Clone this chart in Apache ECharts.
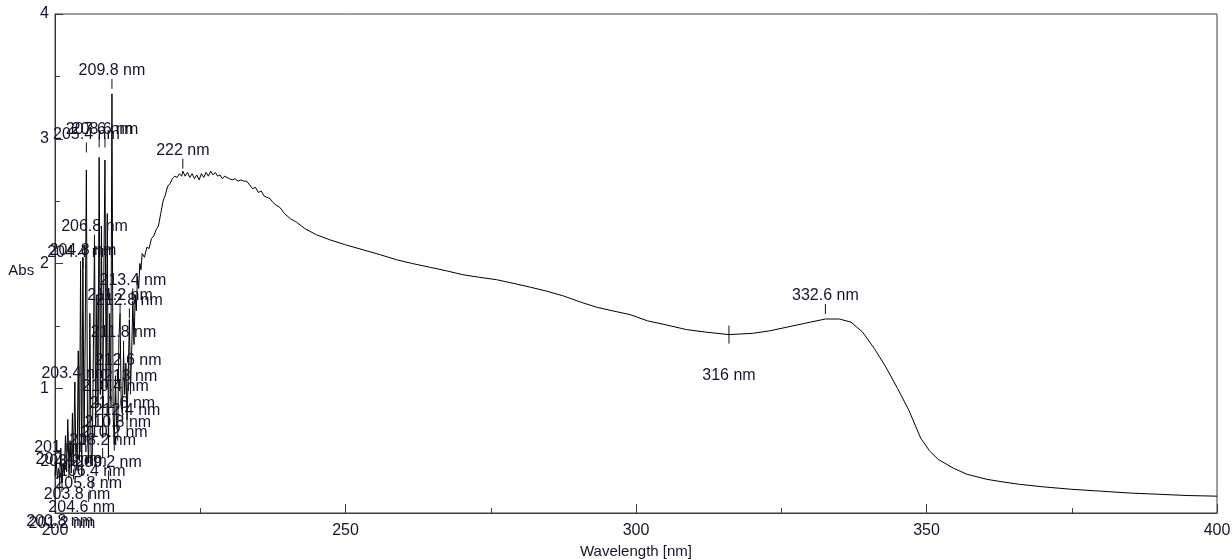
<!DOCTYPE html>
<html>
<head>
<meta charset="utf-8">
<script src="https://cdn.jsdelivr.net/npm/echarts@6/dist/echarts.min.js"></script>
<style>
html,body{margin:0;padding:0;background:#fff;}
#chart{width:1232px;height:559px;}
</style>
</head>
<body>
<div id="chart"></div>
<script>
// ---- data ----
const xTicks = [200, 250, 300, 350, 400];
const yTicks = [0, 1, 2, 3, 4];

// noisy, saturated region (wavelength nm, absorbance)
const spikeRegion = [
  [200.0,0.30],[200.2,0.42],[200.4,0.28],[200.6,0.36],[200.8,0.26],[201.0,0.52],[201.2,0.24],
  [201.4,0.40],[201.6,0.30],[201.8,0.62],[202.0,0.33],[202.2,0.75],[202.4,0.36],[202.6,0.58],
  [202.8,0.32],[203.0,0.80],[203.2,0.40],[203.4,1.05],[203.6,0.45],[203.8,0.34],[204.0,1.30],
  [204.2,0.42],[204.4,1.95],[204.6,0.30],[204.8,2.05],[205.0,0.55],[205.2,1.45],[205.4,2.75],
  [205.6,0.60],[205.8,0.40],[206.0,1.60],[206.2,0.50],[206.4,0.38],[206.6,1.30],[206.8,2.20],
  [207.0,0.70],[207.2,1.75],[207.4,0.85],[207.6,2.85],[207.8,0.95],[208.0,2.30],[208.2,0.60],
  [208.4,1.90],[208.6,2.83],[208.8,1.00],[209.0,2.40],[209.2,0.45],[209.4,1.60],[209.6,0.90],
  [209.8,3.36],[210.0,0.80],[210.2,0.55],[210.4,1.10],[210.6,0.70],[210.8,0.65],[211.0,1.40],
  [211.2,1.60],[211.4,0.85],[211.6,0.80],[211.8,1.30],[212.0,0.95],[212.2,1.20],[212.4,0.75],
  [212.6,1.10],[212.8,1.55],[213.0,1.00],[213.2,1.30],[213.4,1.70],[213.6,1.35],[213.8,1.75],
  [214.0,1.62],[214.2,1.90],[214.4,1.80],[214.6,2.00],[214.8,1.95],[215.0,2.08]
];

// main absorption band
const bandRegion = [
  [215.4,2.05],[215.8,2.13],[216.2,2.12],[216.6,2.20],[217.0,2.22],[217.4,2.27],[217.8,2.30],
  [218.2,2.40],[218.6,2.50],[219.0,2.55],[219.4,2.62],[219.8,2.64],[220.2,2.68],[220.6,2.70],
  [221.0,2.69],[221.4,2.72],[221.8,2.70],[222.0,2.74],[222.4,2.70],[222.8,2.73],[223.2,2.69],
  [223.6,2.72],[224.0,2.68],[224.4,2.71],[224.8,2.67],[225.2,2.72],[225.6,2.69],[226.0,2.73],
  [226.4,2.70],[226.8,2.74],[227.2,2.71],[227.6,2.73],[228.0,2.70],[228.4,2.71],[228.8,2.68],
  [229.2,2.70],[229.6,2.69],[230.0,2.68],[230.5,2.67],[231.0,2.68],[231.5,2.66],[232.0,2.67],
  [232.5,2.66],[233.0,2.66],[233.5,2.63],[234.0,2.60],[234.5,2.61],[235.0,2.57],[235.5,2.58],
  [236.0,2.54],[236.5,2.53],[237.0,2.52],[237.5,2.49],[238.0,2.47],[238.7,2.45],[239.5,2.40],
  [240.5,2.36],[241.6,2.33],[243.0,2.28],[245.0,2.23],[247.3,2.19],[250.0,2.15],[253.0,2.11],
  [256.0,2.07],[258.8,2.03],[261.5,2.00],[264.5,1.97],[267.5,1.94],[270.2,1.91],[273.0,1.89],
  [276.0,1.87],[279.0,1.84],[281.8,1.81],[284.5,1.78],[287.5,1.74],[290.5,1.69],[293.2,1.65],
  [296.0,1.62],[299.0,1.59],[302.0,1.54],[305.0,1.51],[308.7,1.47],[312.0,1.45],[316.0,1.43],
  [320.0,1.44],[323.0,1.46],[326.0,1.49],[329.0,1.52],[332.6,1.555],[335.0,1.555],[337.0,1.53],
  [339.0,1.45],[341.0,1.32],[343.0,1.17],[345.0,1.00],[347.0,0.82],[349.0,0.60],[350.5,0.50],
  [352.0,0.43],[354.6,0.36],[357.0,0.31],[360.4,0.27],[363.0,0.25],[366.0,0.23],[370.0,0.21],
  [375.0,0.19],[380.0,0.175],[385.0,0.16],[390.0,0.15],[395.0,0.14],[400.0,0.135]
];

// picked peaks: [wavelength, absorbance, label]
const peakLabels = [
  [209.8,3.36,'209.8 nm'],[205.4,2.85,'205.4 nm'],[207.6,2.89,'207.6 nm'],[208.6,2.89,'208.6 nm'],
  [206.8,2.11,'206.8 nm'],[204.8,1.92,'204.8 nm'],[204.4,1.90,'204.4 nm'],[213.4,1.68,'213.4 nm'],
  [211.2,1.56,'211.2 nm'],[212.8,1.52,'212.8 nm'],[211.8,1.26,'211.8 nm'],[212.6,1.04,'212.6 nm'],
  [203.4,0.93,'203.4 nm'],[213.0,0.91,'213 nm'],[210.4,0.83,'210.4 nm'],[211.6,0.69,'211.6 nm'],
  [212.4,0.64,'212.4 nm'],[210.8,0.54,'210.8 nm'],[210.2,0.46,'210.2 nm'],[208.2,0.40,'208.2 nm'],
  [201.0,0.34,'201 nm'],[202.4,0.24,'202.4 nm'],[203.2,0.23,'203.2 nm'],[209.2,0.22,'209.2 nm'],
  [206.4,0.15,'206.4 nm'],[205.8,0.05,'205.8 nm'],
  [222.0,2.72,'222 nm'],[332.6,1.555,'332.6 nm']
];
// picked valleys: [wavelength, absorbance, label]
const valleyLabels = [
  [203.8,0.48,'203.8 nm'],[204.6,0.37,'204.6 nm'],[200.8,0.26,'200.8 nm'],[201.2,0.24,'201.2 nm'],
  [316.0,1.43,'316 nm']
];

// ---- chart ----
const FONT = '"Liberation Sans", Arial, sans-serif';
const TXT = '#15152a';
const chart = echarts.init(document.getElementById('chart'), null, {renderer: 'canvas'});

function labelRenderer(list, isPeak) {
  return function (params, api) {
    const p = api.coord([api.value(0), api.value(1)]);
    const t = list[params.dataIndex][2];
    const y1 = isPeak ? p[1] - 15 : p[1] - 9;
    const y2 = isPeak ? p[1] - 5 : p[1] + 9;
    const ty = isPeak ? p[1] - 23 : p[1] + 41;
    return {
      type: 'group',
      children: [
        {type: 'line', shape: {x1: p[0], y1: y1, x2: p[0], y2: y2},
         style: {stroke: '#111', lineWidth: 1}},
        {type: 'text', style: {text: t, x: p[0], y: ty, align: 'center', verticalAlign: 'middle',
          font: '16px ' + FONT, fill: TXT}}
      ]
    };
  };
}

chart.setOption({
  animation: false,
  backgroundColor: '#fff',
  grid: {left: 55, right: 15, top: 14, bottom: 46, show: true, borderColor: '#3a3a3a', borderWidth: 1,
         backgroundColor: 'transparent', containLabel: false, outerBoundsMode: 'none'},
  xAxis: {
    type: 'value', min: xTicks[0], max: xTicks[xTicks.length - 1], interval: 50,
    name: 'Wavelength [nm]', nameLocation: 'middle', nameGap: 29,
    nameTextStyle: {fontFamily: FONT, fontSize: 15, color: TXT},
    axisLine: {show: true, lineStyle: {color: '#3a3a3a', width: 1}},
    axisTick: {show: true, inside: true, length: 9, lineStyle: {color: '#3a3a3a'}},
    minorTick: {show: true, splitNumber: 2, length: 5, lineStyle: {color: '#3a3a3a'}},
    axisLabel: {margin: 10, fontFamily: FONT, fontSize: 16, color: TXT},
    splitLine: {show: false}
  },
  yAxis: {
    type: 'value', min: yTicks[0], max: yTicks[yTicks.length - 1], interval: 1,
    name: 'Abs', nameLocation: 'middle', nameGap: 17, nameRotate: 0,
    nameTextStyle: {fontFamily: FONT, fontSize: 15, color: TXT, verticalAlign: 'top'},
    axisLine: {show: true, lineStyle: {color: '#3a3a3a', width: 1}},
    axisTick: {show: true, inside: true, length: 8, lineStyle: {color: '#3a3a3a'}},
    minorTick: {show: true, splitNumber: 2, length: 5, lineStyle: {color: '#3a3a3a'}},
    axisLabel: {margin: 6, fontFamily: FONT, fontSize: 16, color: TXT, showMinLabel: false},
    splitLine: {show: false}
  },
  series: [
    {type: 'line', data: spikeRegion.concat(bandRegion), showSymbol: false, symbol: 'none',
     lineStyle: {color: '#000', width: 1}, clip: true, z: 2},
    {type: 'custom', data: peakLabels.map(d => [d[0], d[1]]), renderItem: labelRenderer(peakLabels, true),
     clip: false, z: 3, silent: true},
    {type: 'custom', data: valleyLabels.map(d => [d[0], d[1]]), renderItem: labelRenderer(valleyLabels, false),
     clip: false, z: 3, silent: true}
  ]
});
</script>
</body>
</html>
